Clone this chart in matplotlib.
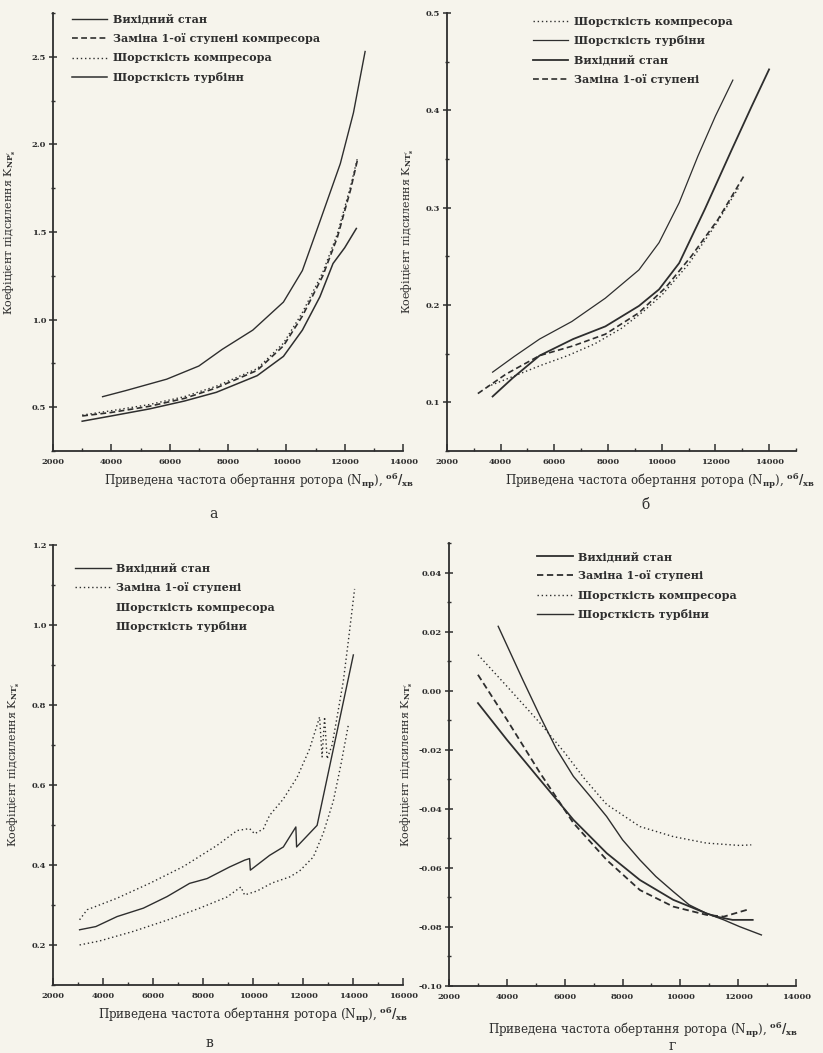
import numpy as np
import matplotlib
matplotlib.use("Agg")
import matplotlib.pyplot as plt
from matplotlib.ticker import MultipleLocator, FuncFormatter
from matplotlib.lines import Line2D

plt.rcParams['font.family'] = ['DejaVu Serif']
plt.rcParams['font.weight'] = 'bold'
plt.rcParams['mathtext.fontset'] = 'dejavuserif'
plt.rcParams['axes.unicode_minus'] = False

# ---- panel а ----
a_base_x = [3700, 4500, 5900, 7000, 7800, 8850, 9900, 10550, 11150, 11850, 12300, 12700]
a_base_y = [0.56, 0.595, 0.66, 0.735, 0.83, 0.94, 1.10, 1.28, 1.56, 1.89, 2.18, 2.53]
a_stage_x = [3000, 4000, 5300, 6500, 7600, 9000, 9900, 10550, 11250, 11750, 12200, 12450]
a_stage_y = [0.45, 0.47, 0.505, 0.55, 0.61, 0.71, 0.85, 1.02, 1.25, 1.47, 1.74, 1.92]
a_comp_x = [3000, 4000, 5300, 6500, 7600, 9000, 9900, 10550, 11250, 11750, 12200, 12450]
a_comp_y = [0.455, 0.48, 0.515, 0.56, 0.62, 0.72, 0.865, 1.04, 1.27, 1.49, 1.76, 1.93]
a_turb_x = [3000, 4000, 5300, 6500, 7600, 9000, 9900, 10550, 11150, 11600, 12000, 12400]
a_turb_y = [0.42, 0.45, 0.49, 0.535, 0.585, 0.68, 0.79, 0.94, 1.13, 1.32, 1.41, 1.52]

# ---- panel б ----
b_comp_x = [3500, 4500, 5500, 6500, 7500, 8500, 9300, 10000, 11000, 12000, 12900]
b_comp_y = [0.116, 0.127, 0.138, 0.148, 0.160, 0.176, 0.193, 0.210, 0.242, 0.282, 0.322]
b_turb_x = [3700, 4500, 5450, 6650, 7900, 9150, 9900, 10650, 11350, 12000, 12650]
b_turb_y = [0.131, 0.147, 0.165, 0.183, 0.207, 0.236, 0.264, 0.305, 0.353, 0.394, 0.431]
b_base_x = [3700, 4450, 5450, 6700, 7900, 9150, 9900, 10650, 11600, 12600, 13350, 14000]
b_base_y = [0.106, 0.125, 0.148, 0.165, 0.178, 0.199, 0.216, 0.243, 0.298, 0.359, 0.404, 0.442]
b_stage_x = [3150, 4200, 5450, 6700, 7900, 9150, 10150, 11100, 12100, 13050]
b_stage_y = [0.109, 0.129, 0.148, 0.158, 0.170, 0.192, 0.218, 0.250, 0.288, 0.332]

# ---- panel в ----
v_base_x = [3050, 3700, 4550, 5600, 6550, 7450, 8150, 9050, 9650, 9850, 9880,
            10650, 11200, 11700, 11730, 12550, 14000]
v_base_y = [0.238, 0.246, 0.271, 0.292, 0.321, 0.354, 0.366, 0.395, 0.412, 0.416, 0.387,
            0.424, 0.445, 0.495, 0.445, 0.499, 0.925]
v_stage_x = [3050, 3350, 4550, 5850, 7200, 8550, 9350, 9850, 10050, 10400, 10650, 11200,
             11750, 12250, 12650, 12750, 12850, 12950, 13150, 13350, 13600, 13800, 14050]
v_stage_y = [0.263, 0.288, 0.317, 0.354, 0.396, 0.449, 0.486, 0.491, 0.478, 0.49, 0.524, 0.565,
             0.619, 0.69, 0.77, 0.67, 0.77, 0.665, 0.70, 0.77, 0.86, 0.96, 1.09]
v_comp_x = [3050, 3850, 5200, 6550, 7850, 8950, 9500, 9650, 10150, 10750, 11450, 11850,
            12400, 12800, 13200, 13500, 13800]
v_comp_y = [0.20, 0.21, 0.234, 0.262, 0.292, 0.32, 0.345, 0.325, 0.335, 0.355, 0.37, 0.385,
            0.42, 0.48, 0.56, 0.65, 0.75]

# ---- panel г ----
g_base_x = [3000, 4000, 5150, 6300, 7450, 8600, 9750, 10900, 11250, 11800, 12500]
g_base_y = [-0.0042, -0.0166, -0.0302, -0.0437, -0.055, -0.0641, -0.0708, -0.0754,
            -0.0765, -0.0776, -0.0776]
g_stage_x = [3000, 4000, 5150, 6300, 7450, 8600, 9750, 10900, 11500, 12300]
g_stage_y = [0.0054, -0.0098, -0.0279, -0.0448, -0.0573, -0.0675, -0.0731, -0.0759,
             -0.0765, -0.0742]
g_comp_x = [3000, 4000, 5150, 6000, 6700, 7450, 8600, 9750, 10900, 12050, 12450]
g_comp_y = [0.0122, 0.0015, -0.011, -0.021, -0.030, -0.0385, -0.046, -0.0494, -0.0516,
            -0.0524, -0.0522]
g_turb_x = [3700, 4550, 5150, 5700, 6300, 6900, 7450, 8000, 8600, 9150, 9750, 10300,
            10900, 11500, 12050, 12800]
g_turb_y = [0.0218, 0.0037, -0.0087, -0.0195, -0.029, -0.036, -0.0426, -0.0505, -0.0573,
            -0.0629, -0.068, -0.0725, -0.0754, -0.0776, -0.0799, -0.0827]

ink = '#2e2e2e'
bg = '#f6f4ec'
SOLID = '-'
DASH = (0, (3.5, 2))
DOT = (0, (1, 2))

xlab = r"Приведена частота обертання ротора (N$_{\mathrm{пр}}$), $^{\mathrm{об}}/_{\mathrm{хв}}$"

fig = plt.figure(figsize=(8.23, 10.53), dpi=100, facecolor=bg)


def style(ax, xlim, ylim, xmaj, xmin, ymaj, ymin, ndec):
    ax.set_facecolor('none')
    ax.set_xlim(*xlim)
    ax.set_ylim(*ylim)
    ax.spines['top'].set_visible(False)
    ax.spines['right'].set_visible(False)
    for s in ('left', 'bottom'):
        ax.spines[s].set_linewidth(1.3)
        ax.spines[s].set_color(ink)
    ax.xaxis.set_major_locator(MultipleLocator(xmaj))
    ax.xaxis.set_minor_locator(MultipleLocator(xmin))
    ax.yaxis.set_major_locator(MultipleLocator(ymaj))
    ax.yaxis.set_minor_locator(MultipleLocator(ymin))
    ax.yaxis.set_major_formatter(FuncFormatter(
        lambda v, p: f"{0.0 if abs(v) < 1e-9 else v:.{ndec}f}"))
    ax.tick_params(axis='x', which='major', direction='in', length=5, width=1.1,
                   labelsize=6, colors=ink, pad=5)
    ax.tick_params(axis='x', which='minor', direction='in', length=2.5, width=1.0, colors=ink)
    ax.tick_params(axis='y', which='major', direction='inout', length=6, width=1.1,
                   labelsize=6, colors=ink, pad=2)
    ax.tick_params(axis='y', which='minor', direction='inout', length=3, width=1.0, colors=ink)
    ax.set_xlabel(xlab, fontsize=8.6, color=ink)


def leg(ax, handles, labels, x, y):
    ax.legend(handles, labels, loc='upper left', bbox_to_anchor=(x, y), frameon=False,
              fontsize=8, handlelength=3.2, handletextpad=0.5, labelspacing=0.75,
              borderpad=0, borderaxespad=0, labelcolor=ink)


# а
ax = fig.add_axes([0.0644, 0.5717, 0.4253, 0.416])
style(ax, (2000, 14000), (0.25, 2.75), 2000, 1000, 0.5, 0.25, 1)
l1, = ax.plot(a_base_x, a_base_y, ls=SOLID, color=ink, lw=1.0)
l2, = ax.plot(a_stage_x, a_stage_y, ls=DASH, color=ink, lw=1.2)
l3, = ax.plot(a_comp_x, a_comp_y, ls=DOT, color=ink, lw=1.0)
l4, = ax.plot(a_turb_x, a_turb_y, ls=SOLID, color=ink, lw=1.1)
leg(ax, [l1, l2, l3, l4], ['Вихідний стан', 'Заміна 1-ої ступені компресора',
                           'Шорсткість компресора', 'Шорсткість турбінн'], 0.054, 0.998)
ax.set_ylabel(r"Коефіцієнт підсилення K$_{\mathrm{NP}_s'}$", fontsize=8, color=ink)
ax.yaxis.set_label_coords(-0.1, 0.5)
ax.xaxis.set_label_coords(0.59, -0.045)

# б
ax = fig.add_axes([0.5431, 0.5717, 0.424, 0.416])
style(ax, (2000, 15000), (0.05, 0.5), 2000, 1000, 0.1, 0.05, 1)
l1, = ax.plot(b_comp_x, b_comp_y, ls=DOT, color=ink, lw=1.0)
l2, = ax.plot(b_turb_x, b_turb_y, ls=SOLID, color=ink, lw=0.9)
l3, = ax.plot(b_base_x, b_base_y, ls=SOLID, color=ink, lw=1.3)
l4, = ax.plot(b_stage_x, b_stage_y, ls=DASH, color=ink, lw=1.2)
leg(ax, [l1, l2, l3, l4], ['Шорсткість компресора', 'Шорсткість турбіни',
                           'Вихідний стан', 'Заміна 1-ої ступені'], 0.246, 0.993)
ax.set_ylabel(r"Коефіцієнт підсилення K$_{\mathrm{NT}_s'}$", fontsize=8, color=ink)
ax.yaxis.set_label_coords(-0.089, 0.5)
ax.xaxis.set_label_coords(0.61, -0.045)

# в
ax = fig.add_axes([0.0648, 0.0646, 0.4253, 0.4179])
style(ax, (2000, 16000), (0.1, 1.2), 2000, 1000, 0.2, 0.1, 1)
l1, = ax.plot(v_base_x, v_base_y, ls=SOLID, color=ink, lw=1.0)
l2, = ax.plot(v_stage_x, v_stage_y, ls=DOT, color=ink, lw=1.0)
l3, = ax.plot(v_comp_x, v_comp_y, ls=DOT, color=ink, lw=1.0)
h3 = Line2D([], [], color=bg, lw=1.0)
h4 = Line2D([], [], color=bg, lw=1.0)
leg(ax, [l1, l2, h3, h4], ['Вихідний стан', 'Заміна 1-ої ступені',
                           'Шорсткість компресора', 'Шорсткість турбіни'], 0.063, 0.959)
ax.set_ylabel(r"Коефіцієнт підсилення K$_{\mathrm{NT}_s'}$", fontsize=8, color=ink)
ax.yaxis.set_label_coords(-0.089, 0.5)
ax.xaxis.set_label_coords(0.57, -0.045)

# г
ax = fig.add_axes([0.5456, 0.0636, 0.4217, 0.4207])
style(ax, (2000, 14000), (-0.10, 0.05), 2000, 1000, 0.02, 0.01, 2)
l1, = ax.plot(g_base_x, g_base_y, ls=SOLID, color=ink, lw=1.3)
l2, = ax.plot(g_stage_x, g_stage_y, ls=DASH, color=ink, lw=1.3)
l3, = ax.plot(g_comp_x, g_comp_y, ls=DOT, color=ink, lw=1.0)
l4, = ax.plot(g_turb_x, g_turb_y, ls=SOLID, color=ink, lw=1.0)
leg(ax, [l1, l2, l3, l4], ['Вихідний стан', 'Заміна 1-ої ступені',
                           'Шорсткість компресора', 'Шорсткість турбіни'], 0.254, 0.982)
ax.set_ylabel(r"Коефіцієнт підсилення K$_{\mathrm{NT}_s'}$", fontsize=8, color=ink)
ax.yaxis.set_label_coords(-0.098, 0.5)
ax.xaxis.set_label_coords(0.56, -0.075)

for lab, x, y in [('а', 213, 514), ('б', 645, 505), ('в', 209, 1043), ('г', 672, 1046)]:
    fig.text(x / 823, 1 - y / 1053, lab, fontsize=10, ha='center', va='center',
             color=ink, fontweight='normal')

fig.savefig('out.png', dpi=100, facecolor=bg)
